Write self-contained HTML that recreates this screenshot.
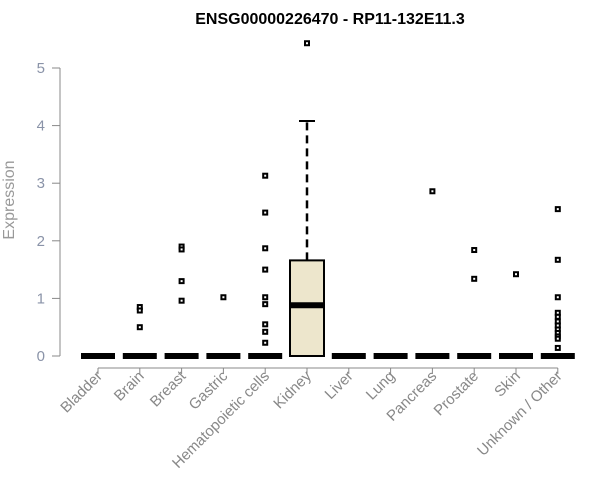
<!DOCTYPE html>
<html><head><meta charset="utf-8"><style>body{margin:0;background:#fff}svg{display:block;font-family:"Liberation Sans",Arial,sans-serif}</style></head>
<body>
<svg id="c" width="600" height="500">
<text x="330" y="24" text-anchor="middle" font-weight="bold" font-size="16">ENSG00000226470 - RP11-132E11.3</text>
<text transform="translate(14,200) rotate(-90)" text-anchor="middle" font-size="16" fill="#999">Expression</text>
</svg>
<script>
const categories=["Bladder","Brain","Breast","Gastric","Hematopoietic cells","Kidney","Liver","Lung","Pancreas","Prostate","Skin","Unknown / Other"];
const medians=[0,0,0,0,0,0.88,0,0,0,0,0,0];
const q1s=[0,0,0,0,0,0,0,0,0,0,0,0];
const q3s=[0,0,0,0,0,1.66,0,0,0,0,0,0];
const whiskerHigh=[0,0,0,0,0,4.08,0,0,0,0,0,0];
const outliers=[[],[0.85,0.79,0.5],[1.9,1.85,1.3,0.96],[1.02],[3.13,2.49,1.87,1.5,1.02,0.9,0.55,0.42,0.23],[5.43],[],[],[2.86],[1.84,1.34],[1.42],[2.55,1.67,1.02,0.75,0.68,0.6,0.53,0.46,0.4,0.34,0.3,0.14]];
const yTicks=[0,1,2,3,4,5];
const svg=document.getElementById('c');const NS='http://www.w3.org/2000/svg';
const y=v=>356-v*57.6;const x=i=>98+i*41.8;
function mk(t,a,name){const e=document.createElementNS(NS,t);for(const k in a)e.setAttribute(k,a[k]);


svg.appendChild(e);return e;}
mk('line',{x1:60,x2:60,y1:y(5),y2:y(0),stroke:'#888'},'y-axis-line');
yTicks.forEach(t=>{mk('line',{x1:52,x2:60,y1:y(t),y2:y(t),stroke:'#888'},'y-tick');
const tx=mk('text',{x:45,y:y(t)+5,'text-anchor':'end','font-size':15,fill:'#8a93a8'},'y-tick-label');tx.textContent=t;});
mk('line',{x1:x(0),x2:x(11),y1:368,y2:368,stroke:'#888'},'x-axis-line');
categories.forEach((c,i)=>{const cx=x(i);
mk('line',{x1:cx,x2:cx,y1:368,y2:374,stroke:'#888'},'x-tick');
const t=mk('text',{transform:`translate(${cx+5},377) rotate(-45)`,'text-anchor':'end','font-size':15,fill:'#888'},'x-tick-label');t.textContent=c;
if(whiskerHigh[i]>q3s[i]){mk('line',{x1:cx,x2:cx,y1:y(q3s[i]),y2:y(whiskerHigh[i]),stroke:'#000','stroke-width':2.5,'stroke-dasharray':'8,5'},'whisker');
mk('line',{x1:cx-8,x2:cx+8,y1:y(whiskerHigh[i]),y2:y(whiskerHigh[i]),stroke:'#000','stroke-width':2},'whisker-cap');}
if(q3s[i]>q1s[i])mk('rect',{x:cx-17,y:y(q3s[i]),width:34,height:y(q1s[i])-y(q3s[i]),fill:'#ede6cc',stroke:'#000','stroke-width':2},'box');
mk('line',{x1:cx-17,x2:cx+17,y1:y(medians[i]),y2:y(medians[i]),stroke:'#000','stroke-width':6},'median-line');
outliers[i].forEach(v=>mk('rect',{x:cx-2,y:y(v)-2,width:4,height:4,fill:'#fff',stroke:'#000','stroke-width':2},'outlier-point'));
});
</script>
</body></html>
